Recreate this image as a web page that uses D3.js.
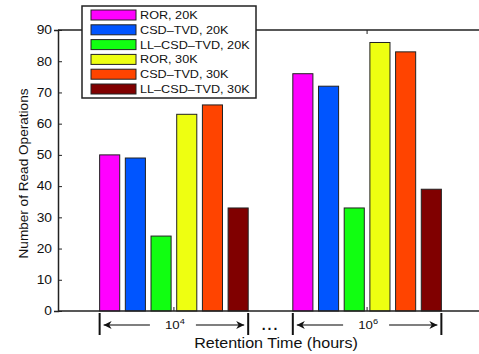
<!DOCTYPE html>
<html>
<head>
<meta charset="utf-8">
<script src="https://cdn.jsdelivr.net/npm/d3@7"></script>
<style>
  body { margin: 0; background: #fff; }
  svg text { font-family: "Liberation Sans", Arial, sans-serif; fill: #111; }
</style>
</head>
<body>
<div id="chart"></div>
<script>
// data
const groups = ["10^4", "10^6"];
const seriesNames = ["ROR, 20K", "CSD\u2013TVD, 20K", "LL\u2013CSD\u2013TVD, 20K",
                     "ROR, 30K", "CSD\u2013TVD, 30K", "LL\u2013CSD\u2013TVD, 30K"];
const seriesColors = ["#ff00ff", "#0055ff", "#11ff11", "#eeff11", "#ff4400", "#800000"];
const values10e4 = [50, 49, 24, 63, 66, 33];
const values10e6 = [76, 72, 33, 86, 83, 39];
const yTicks = [0, 10, 20, 30, 40, 50, 60, 70, 80, 90];

const W = 479, H = 354;
const margin = {top: 30, right: -4, bottom: 43, left: 58};
const stretch = 1.15; // text in the original is a bit wider than tall

const svg = d3.select("#chart").append("svg")
  .attr("width", W).attr("height", H);

const xScale = d3.scaleLinear().domain([0.4, 2.6]).range([margin.left, W - margin.right]);
const yScale = d3.scaleLinear().domain([0, 90]).range([H - margin.bottom, margin.top]);

function addText(parent, x, y, str, size, anchor) {
  return parent.append("text")
    .attr("transform", `translate(${x},${y}) scale(${stretch},1)`)
    .attr("text-anchor", anchor || "start")
    .style("font-size", size + "px")
    .text(str);
}

const barStep = 0.133, barW = 0.104;
const data = [values10e4, values10e6];

// bars
data.forEach((vals, gi) => {
  vals.forEach((v, si) => {
    const cx = (gi + 1) + (si - 2.5) * barStep;
    svg.append("rect")
      .attr("x", xScale(cx - barW / 2))
      .attr("y", yScale(v))
      .attr("width", xScale(barW) - xScale(0))
      .attr("height", yScale(0) - yScale(v))
      .attr("fill", seriesColors[si])
      .attr("stroke", "#222")
      .attr("stroke-width", 1);
  });
});

// axes box
const x0 = xScale.range()[0], x1 = xScale.range()[1];
const y0 = yScale(0), y1 = yScale(90);
svg.append("path")
  .attr("d", `M${x0},${y1}H${x1}M${x0},${y0}H${x1}`)
  .attr("stroke", "#222").attr("stroke-width", 1.5).attr("fill", "none");

const yAxis = d3.axisLeft(yScale).tickValues(yTicks).tickSize(4).tickFormat(d3.format("d"));
const gy = svg.append("g").attr("transform", `translate(${x0},0)`).call(yAxis);
gy.select(".domain").attr("stroke", "#222").attr("stroke-width", 1.5);
gy.selectAll(".tick line").attr("x2", 4).attr("stroke", "#222");
gy.selectAll(".tick text")
  .attr("x", -5.2)
  .attr("transform", `scale(${stretch},1)`)
  .style("font-size", "12px");

// right side ticks
svg.append("g").selectAll("line").data(yTicks.slice(1, -1)).join("line")
  .attr("x1", x1).attr("x2", x1 - 4)
  .attr("y1", d => yScale(d)).attr("y2", d => yScale(d))
  .attr("stroke", "#222");

// x ticks (inside)
[1, 2].forEach(t => {
  svg.append("line").attr("x1", xScale(t)).attr("x2", xScale(t))
    .attr("y1", y0).attr("y2", y0 - 4).attr("stroke", "#222");
  svg.append("line").attr("x1", xScale(t)).attr("x2", xScale(t))
    .attr("y1", y1).attr("y2", y1 + 4).attr("stroke", "#222");
});

// group range annotations
const half = 2.5 * barStep + barW / 2;
const arrowY = y0 + 14;
const defs = svg.append("defs");
defs.append("marker").attr("id", "ah").attr("viewBox", "0 0 10 10")
  .attr("refX", 10).attr("refY", 5).attr("markerWidth", 14).attr("markerHeight", 8)
  .attr("markerUnits", "userSpaceOnUse").attr("orient", "auto")
  .append("path").attr("d", "M0,0L10,5L0,10L3,5Z").attr("fill", "#111");

groups.forEach((g, gi) => {
  const c = gi + 1;
  const xl = xScale(c - half), xr = xScale(c + half), xc = xScale(c);
  [xl, xr].forEach(x => svg.append("line")
    .attr("x1", x).attr("x2", x).attr("y1", y0 + 2).attr("y2", y0 + 24)
    .attr("stroke", "#111").attr("stroke-width", 2));
  svg.append("line").attr("x1", xc - 24).attr("x2", xl + 4)
    .attr("y1", arrowY).attr("y2", arrowY).attr("stroke", "#555").attr("stroke-width", 1.5)
    .attr("marker-end", "url(#ah)");
  svg.append("line").attr("x1", xc + 22).attr("x2", xr - 4)
    .attr("y1", arrowY).attr("y2", arrowY).attr("stroke", "#555").attr("stroke-width", 1.5)
    .attr("marker-end", "url(#ah)");
  const parts = g.split("^");
  const t = addText(svg, xc + 1, arrowY + 4, parts[0], 11.5, "middle");
  t.append("tspan").attr("dy", -5).style("font-size", "8px").text(parts[1]);
});

// ellipsis between groups
svg.append("text")
  .attr("x", (xScale(1 + half) + xScale(2 - half)) / 2).attr("y", arrowY + 5)
  .attr("text-anchor", "middle").style("font-size", "14px").style("font-weight", "bold")
  .attr("letter-spacing", "2px")
  .text("...");

// axis labels
addText(svg, 276, H - 6, "Retention Time (hours)", 14, "middle");

svg.append("text")
  .attr("transform", `translate(28,${(y0 + y1) / 2 + 3}) rotate(-90)`)
  .attr("text-anchor", "middle").style("font-size", "13.6px")
  .text("Number of Read Operations");

// legend
const legend = svg.append("g").attr("transform", "translate(82,6)");
legend.append("rect").attr("width", 174).attr("height", 92)
  .attr("fill", "#fff").attr("stroke", "#222").attr("stroke-width", 1.5);
seriesNames.forEach((name, i) => {
  const yy = 4 + i * 14.8;
  legend.append("rect").attr("x", 9).attr("y", yy).attr("width", 45).attr("height", 10)
    .attr("fill", seriesColors[i]).attr("stroke", "#222");
  addText(legend, 58, yy + 9, name, 11);
});
</script>
</body>
</html>
